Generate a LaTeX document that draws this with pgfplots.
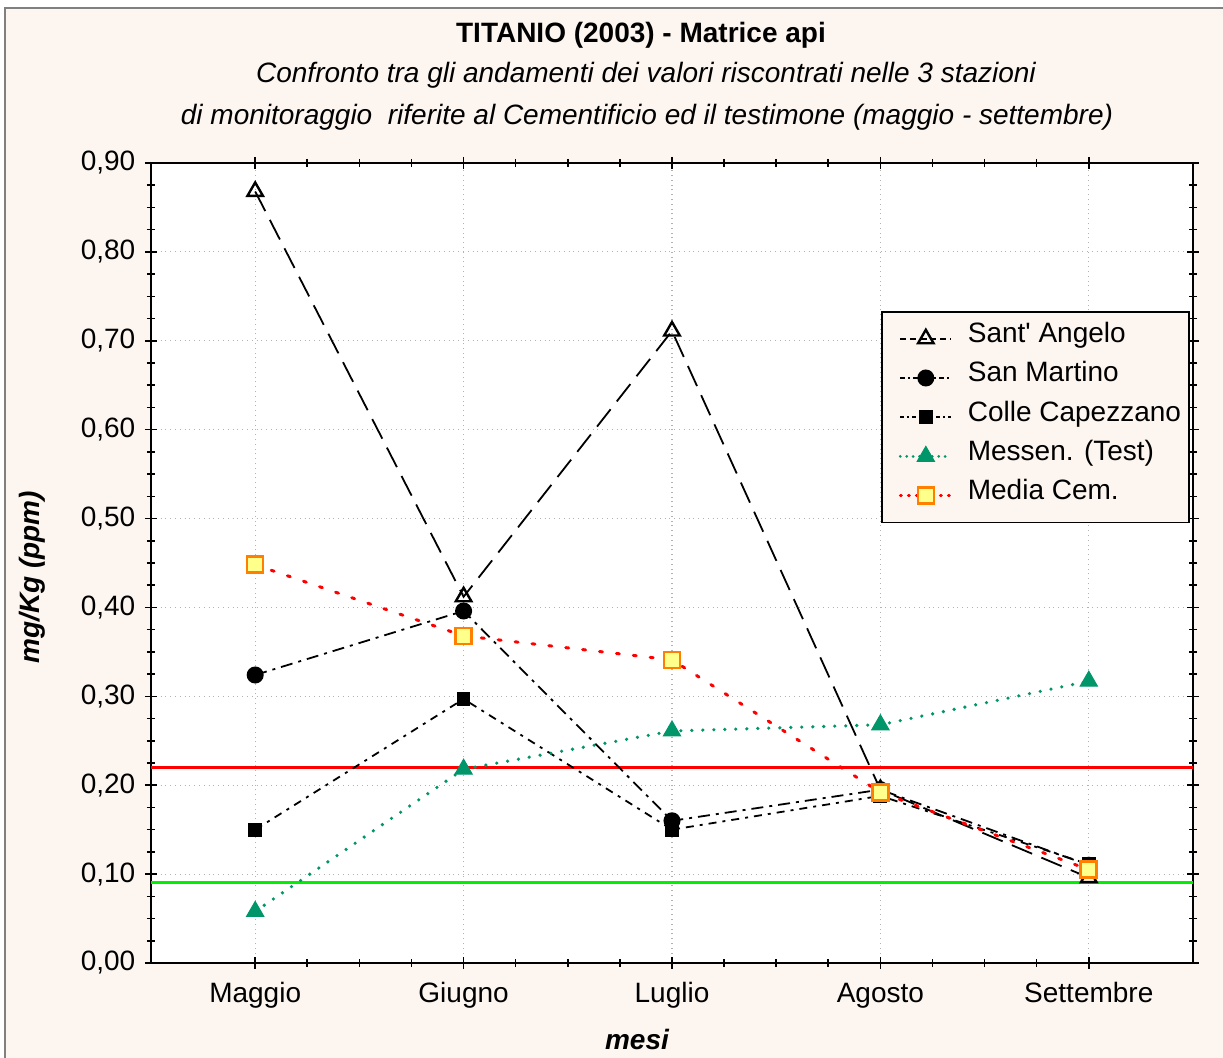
\documentclass[border=0pt]{standalone}
\usepackage{fontspec}
\setmainfont{Liberation Sans}
\usepackage{pgfplots}
\pgfplotsset{compat=1.18}

\definecolor{cream}{RGB}{253,246,240}
\definecolor{testgreen}{RGB}{0,150,105}
\definecolor{markyellow}{RGB}{255,255,140}
\definecolor{markorange}{RGB}{255,128,0}
\definecolor{limeline}{RGB}{0,240,0}

\begin{document}
\fontsize{14}{17}\selectfont
\begin{tikzpicture}
\useasboundingbox (0,0) rectangle (611.5pt,-529pt);
\filldraw[fill=cream, draw=gray, line width=0.8pt] (2.5pt,-4pt) rectangle (640pt,-560pt);

% titles
\node[anchor=base, font=\bfseries] at (320.5pt,-21.5pt) {TITANIO (2003) - Matrice api};
\node[anchor=base, font=\itshape] at (323pt,-41.5pt) {Confronto tra gli andamenti dei valori riscontrati nelle 3 stazioni};
\node[anchor=base, font=\itshape] at (323.5pt,-62.5pt) {di monitoraggio~ riferite al Cementificio ed il testimone (maggio - settembre)};

\begin{axis}[
    at={(75.5pt,-481.5pt)}, anchor=south west,
    scale only axis, width=521pt, height=400pt,
    xmin=-0.5, xmax=4.5, ymin=0, ymax=0.9,
    xtick={0,1,2,3,4},
    xticklabels={Maggio,Giugno,Luglio,Agosto,Settembre},
    minor x tick num=3,
    ytick={0,0.1,0.2,0.3,0.4,0.5,0.6,0.7,0.8,0.9},
    minor y tick num=3,
    yticklabel style={/pgf/number format/.cd, fixed, fixed zerofill, precision=2, use comma, assume math mode=true},
    tick label style={font=\fontsize{14}{17}\selectfont},
    xticklabel style={text height=10.5pt, text depth=3pt, yshift=-1.5pt},
    axis background/.style={fill=white},
    axis line style={black, line width=1pt},
    tick align=center,
    major tick length=6pt, minor tick length=4pt,
    tick style={black, line width=0.8pt},
    grid=major,
    major grid style={gray!60, dotted, line width=0.6pt},
    xlabel={\bfseries\itshape mesi},
    ylabel={\bfseries\itshape mg/Kg (ppm)},
    xlabel style={at={(axis description cs:0.4664,-0.096)}, anchor=center},
    ylabel style={at={(axis description cs:-0.114,0.482)}, anchor=center},
    label style={font=\fontsize{14}{17}\selectfont},
    legend cell align=left,
    legend image code/.code={\path (0pt,0pt);
        \draw[mark repeat=2,mark phase=2] plot coordinates {(4.5pt,0pt) (17.25pt,0pt) (30pt,0pt)};},
    legend style={at={(axis description cs:0.7006,0.815)}, anchor=north west,
        fill=cream, draw=black, line width=0.8pt,
        font=\fontsize{14}{17}\selectfont,
        inner xsep=4pt, inner ysep=7pt, row sep=6.6pt, column sep=7.5pt,
        nodes={inner sep=0pt, text height=8.5pt, text depth=4.5pt}},
]

% reference lines
\addplot[red, line width=1.5pt, forget plot] coordinates {(-0.5,0.22) (4.5,0.22)};
\addplot[limeline, line width=1.5pt, forget plot] coordinates {(-0.5,0.09) (4.5,0.09)};

% Sant' Angelo
\addplot[black, line width=0.9pt, dash pattern=on 11pt off 5pt,
    mark=triangle, mark size=4.5pt, mark options={solid, line width=1.2pt, fill=white},
    legend image post style={dash pattern=on 3pt off 2pt}]
    coordinates {(0,0.868) (1,0.412) (2,0.711) (3,0.195) (4,0.096)};
\addlegendentry{Sant\textquotesingle\ Angelo}

% San Martino
\addplot[black, line width=0.9pt, dash pattern=on 6pt off 3pt on 1.5pt off 3pt,
    mark=*, mark size=3.8pt, mark options={solid},
    legend image post style={dash pattern=on 2.5pt off 1.5pt on 1pt off 1.5pt}]
    coordinates {(0,0.324) (1,0.396) (2,0.160) (3,0.195) (4,0.110)};
\addlegendentry{San Martino}

% Colle Capezzano
\addplot[black, line width=0.9pt, dash pattern=on 4pt off 3pt on 1.5pt off 3pt,
    mark=square*, mark size=3pt, mark options={solid},
    legend image post style={dash pattern=on 2pt off 1.5pt on 1pt off 1.5pt}]
    coordinates {(0,0.150) (1,0.297) (2,0.150) (3,0.188) (4,0.111)};
\addlegendentry{Colle Capezzano}

% Messen. (Test)
\addplot[testgreen, line width=1.8pt, line cap=round, dash pattern=on 0pt off 5.5pt,
    mark=triangle*, mark size=5pt, mark options={solid, line width=0.5pt},
    legend image post style={dash pattern=on 0pt off 3.2pt, line width=1.5pt}]
    coordinates {(0,0.058) (1,0.218) (2,0.261) (3,0.268) (4,0.317)};
\addlegendentry{Messen. (Test)}

% Media Cem.
\addplot[red, line width=1.5pt, line cap=round, dash pattern=on 1.5pt off 7pt,
    mark=square*, mark size=4pt, mark options={solid, fill=markyellow, draw=markorange, line width=1.3pt},
    legend image post style={dash pattern=on 0.5pt off 3.5pt}]
    coordinates {(0,0.448) (1,0.368) (2,0.341) (3,0.192) (4,0.105)};
\addlegendentry{Media Cem.}

\end{axis}
\end{tikzpicture}
\end{document}
